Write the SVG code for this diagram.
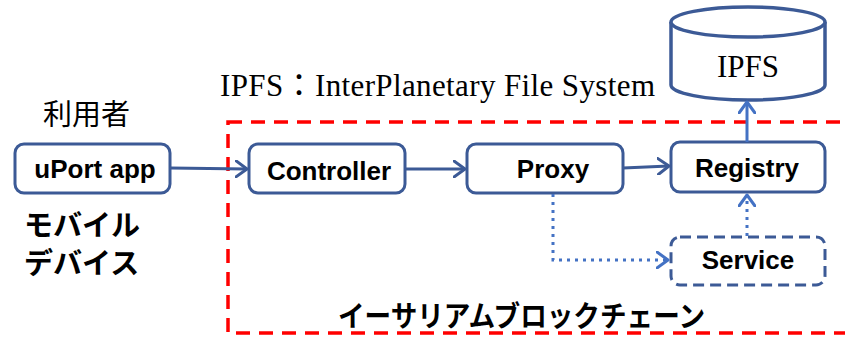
<svg xmlns="http://www.w3.org/2000/svg" width="845" height="338" viewBox="0 0 845 338">
<defs>
<style>
.box{fill:#fff;stroke:#3c5a96;stroke-width:3}
.dbox{fill:#fff;stroke:#3c5a96;stroke-width:3;stroke-dasharray:11 6}
.lbl{font-family:"Liberation Sans",Arial,sans-serif;font-weight:bold;font-size:26px;fill:#000;text-anchor:middle}
.ser{font-family:"Liberation Serif","Times New Roman","Noto Sans CJK JP",serif;font-size:31px;fill:#000}
.jp{font-family:"Noto Sans CJK JP","Noto Sans",sans-serif;font-size:29px;fill:#000}
.jpb{font-family:"Noto Sans CJK JP","Noto Sans",sans-serif;font-size:29px;font-weight:bold;fill:#000}
.c1{fill:none;stroke:#3c5a96;stroke-width:3}
.c2{fill:none;stroke:#4472c4;stroke-width:3}
.dot{fill:none;stroke:#4472c4;stroke-width:3;stroke-dasharray:3 5}
</style>
<marker id="ah1" viewBox="0 0 14 18" refX="12" refY="9" markerWidth="14" markerHeight="18" markerUnits="userSpaceOnUse" orient="auto">
<path d="M1,1 L12,9 L1,17" fill="none" stroke="#3c5a96" stroke-width="3" stroke-linecap="round" stroke-linejoin="round"/>
</marker>
<marker id="ah2" viewBox="0 0 14 18" refX="12" refY="9" markerWidth="14" markerHeight="18" markerUnits="userSpaceOnUse" orient="auto">
<path d="M1,1 L12,9 L1,17" fill="none" stroke="#4472c4" stroke-width="3" stroke-linecap="round" stroke-linejoin="round"/>
</marker>
</defs>
<rect width="845" height="338" fill="#fff"/>

<g id="blockchain">
<rect x="228" y="122" width="630" height="211" fill="none" stroke="#ff0000" stroke-width="3.5" stroke-dasharray="14 9"/>
<text class="jpb" x="338" y="327" font-size="31" textLength="367" lengthAdjust="spacingAndGlyphs">イーサリアムブロックチェーン</text>
</g>

<g id="legend">
<text class="ser" x="220" y="96" textLength="435" lengthAdjust="spacing">IPFS：InterPlanetary File System</text>
</g>

<g id="user-label">
<text class="jp" x="43" y="125">利用者</text>
</g>
<g id="mobile-label">
<text class="jpb" x="24" y="236">モバイル</text>
<text class="jpb" x="24" y="274">デバイス</text>
</g>

<g id="ipfs">
<path d="M671,22 L671,85 A77,15 0 0 0 825,85 L825,22" fill="#fff" stroke="#3c5a96" stroke-width="3.5"/>
<ellipse cx="748" cy="22" rx="77" ry="15" fill="#fff" stroke="#3c5a96" stroke-width="3.5"/>
<text class="ser" x="748" y="77" text-anchor="middle">IPFS</text>
</g>

<g id="uport">
<rect class="box" x="15" y="144" width="155" height="49" rx="9"/>
<text class="lbl" x="95" y="178">uPort app</text>
</g>
<g id="controller">
<rect class="box" x="249" y="144" width="156" height="49" rx="9"/>
<text class="lbl" x="329" y="180">Controller</text>
</g>
<g id="proxy">
<rect class="box" x="467" y="144" width="156" height="49" rx="9"/>
<text class="lbl" x="553" y="178">Proxy</text>
</g>
<g id="registry">
<rect class="box" x="671" y="142" width="154" height="50" rx="9"/>
<text class="lbl" x="747" y="177">Registry</text>
</g>
<g id="service">
<rect class="dbox" x="671" y="237" width="154" height="48" rx="9"/>
<text class="lbl" x="748" y="269">Service</text>
</g>

<g id="connectors">
<line class="c1" x1="170" y1="168" x2="247" y2="169" marker-end="url(#ah1)"/>
<line class="c1" x1="405" y1="169" x2="465" y2="169" marker-end="url(#ah1)"/>
<line class="c1" x1="623" y1="168" x2="669" y2="166" marker-end="url(#ah1)"/>
<line class="c2" x1="747" y1="142" x2="747" y2="102" marker-end="url(#ah2)"/>
<line class="dot" x1="747" y1="236" x2="747" y2="195" marker-end="url(#ah2)"/>
<polyline class="dot" points="553,194 553,260 668,260" marker-end="url(#ah2)"/>
</g>
</svg>
